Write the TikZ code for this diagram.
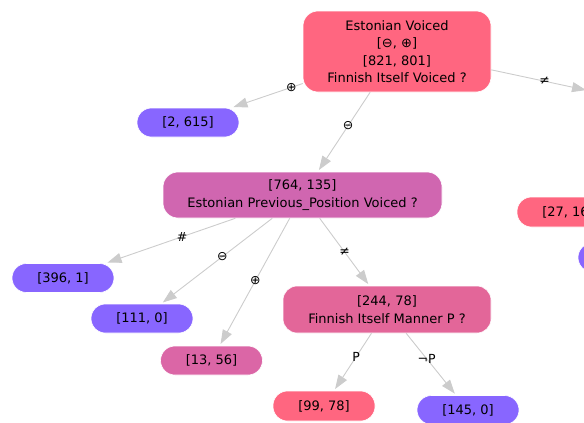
\documentclass[tikz,border=0pt]{standalone}
\usepackage{fontspec}
\setmainfont{DejaVu Sans}
\usetikzlibrary{arrows.meta}
\definecolor{redleaf}{RGB}{255,102,128}
\definecolor{blueleaf}{RGB}{136,102,255}
\definecolor{midnode}{RGB}{208,102,176}
\definecolor{lownode}{RGB}{227,102,153}
\definecolor{mixleaf}{RGB}{219,102,166}
\definecolor{edgegray}{RGB}{204,204,204}

\begin{document}
\begin{tikzpicture}[x=1pt, y=-1pt,
		box/.style={draw=white, line width=0.6pt, rounded corners=15pt, align=center, inner sep=0pt, font=\fontsize{13}{17.5}\selectfont},
		leaf/.style={box, rounded corners=14.5pt, minimum width=102pt, minimum height=29pt},
		arc/.style={draw=edgegray, line width=0.9pt, -{Triangle[length=14pt, width=10pt]}, shorten >=2pt},
		lab/.style={font=\fontsize{12.5}{14}\selectfont, inner sep=1pt}]
		%%%%% START %%%%%
		
		\useasboundingbox (0, 0) rectangle (584, 423);
		\clip (0, 0) rectangle (584, 423);
		
		% splits
		\node[box, fill=redleaf, minimum width=188pt, minimum height=81pt] (root) at (397, 51.5) {Estonian Voiced\\{[}⊖, ⊕{]}\\{[}821, 801{]}\\Finnish Itself Voiced ?};
		\node[box, fill=midnode, minimum width=279pt, minimum height=46pt] (prev) at (302.5, 195) {{[}764, 135{]}\\Estonian Previous\_Position Voiced ?};
		\node[box, fill=lownode, minimum width=208pt, minimum height=47pt, rounded corners=14pt] (manner) at (387, 309.5) {{[}244, 78{]}\\Finnish Itself Manner P ?};
		
		% leaves
		\node[leaf, fill=blueleaf] (plus) at (188, 122.5) {{[}2, 615{]}};
		\node[leaf, fill=redleaf, minimum height=30pt] (neq) at (568, 212) {{[}27, 16{]}};
		\node[leaf, fill=blueleaf] (far) at (629, 257.5) {};
		\node[leaf, fill=blueleaf] (hash) at (63, 278) {{[}396, 1{]}};
		\node[leaf, fill=blueleaf] (minus) at (142, 318.5) {{[}111, 0{]}};
		\node[leaf, fill=mixleaf] (mixed) at (211.5, 360.5) {{[}13, 56{]}};
		\node[leaf, fill=redleaf, minimum height=30pt] (pyes) at (324, 406) {{[}99, 78{]}};
		\node[leaf, fill=blueleaf] (pno) at (468, 410) {{[}145, 0{]}};
		
		\coordinate (offR) at (588, 90.5);
		
		% edges
		\draw[arc] (root) -- node[lab, pos=0.16] {⊕} (plus);
		\draw[arc] (root) -- node[lab, pos=0.42] {⊖} (prev);
		\draw[arc] (root.-11) -- node[lab, pos=0.55] {≠} (offR);
		
		\draw[arc] (prev) -- node[lab, pos=0.41] {\#} (hash);
		\draw[arc] (prev) -- node[lab, pos=0.45] {⊖} (minus);
		\draw[arc] (prev) -- node[lab, pos=0.49] {⊕} (mixed);
		\draw[arc] (prev) -- node[lab, pos=0.5] {≠} (manner);
		
		\draw[arc] (manner) -- node[lab, pos=0.41] {P} (pyes);
		\draw[arc] (manner) -- node[lab, pos=0.41] {¬P} (pno);
		
		%%%%% END %%%%%
	\end{tikzpicture}
\end{document}
